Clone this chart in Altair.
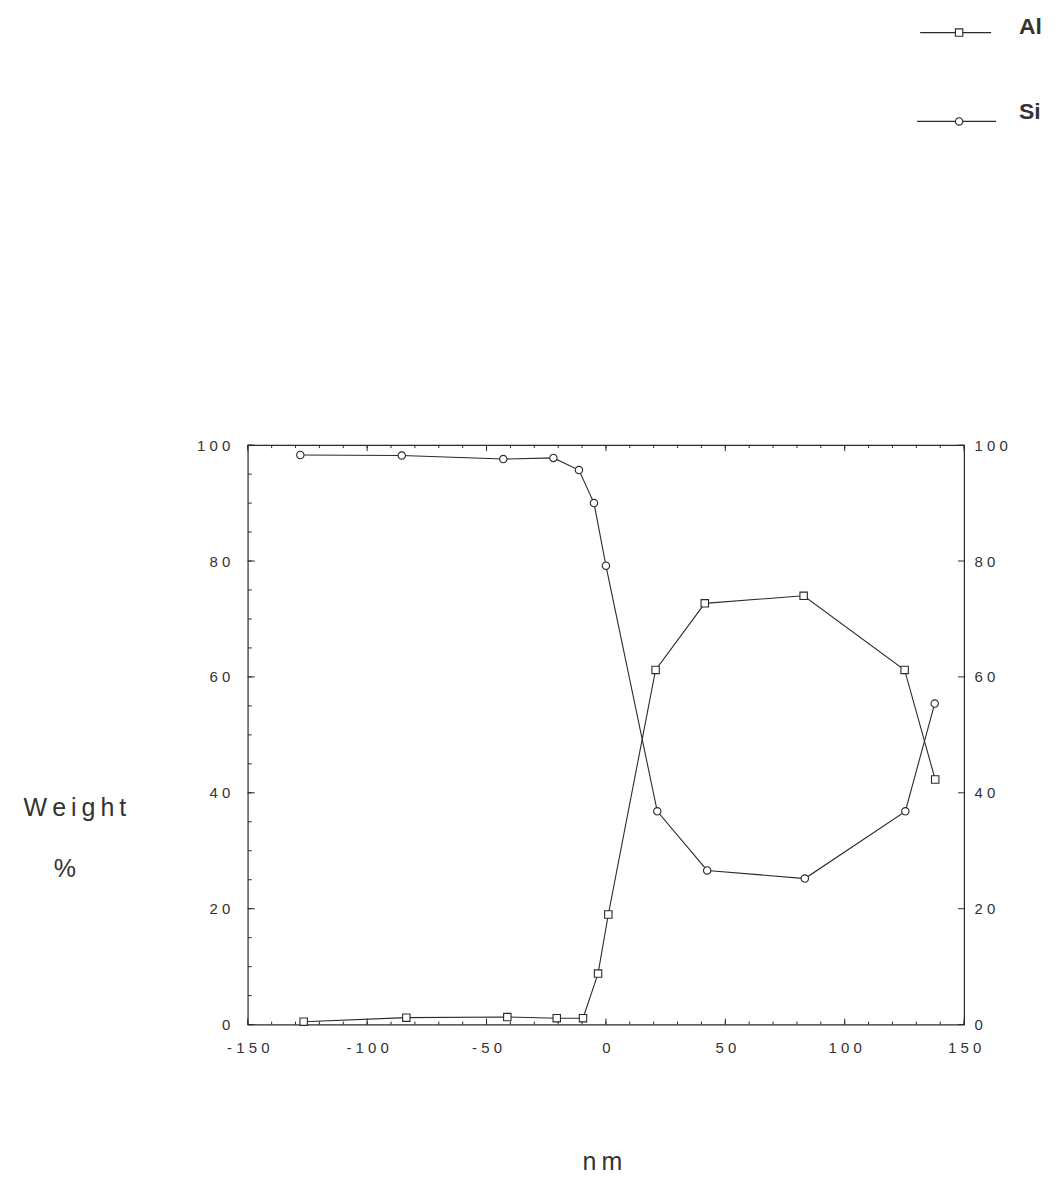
import altair as alt
import pandas as pd

# ---- data ----
al_x = [-126.6, -83.6, -41.3, -20.6, -9.6, -3.3, 1.0, 20.8, 41.4, 82.8, 125.1, 137.9]
al_y = [0.5, 1.2, 1.3, 1.1, 1.1, 8.8, 19.0, 61.2, 72.7, 74.0, 61.2, 42.3]
si_x = [-128.0, -85.5, -43.0, -22.0, -11.3, -5.0, 0.0, 21.5, 42.4, 83.3, 125.4, 137.7]
si_y = [98.3, 98.2, 97.6, 97.8, 95.7, 90.0, 79.2, 36.8, 26.6, 25.2, 36.8, 55.4]

x_labels = [-150, -100, -50, 0, 50, 100, 150]
x_minor = list(range(-150, 151, 10))
y_labels = [0, 20, 40, 60, 80, 100]
y_minor = list(range(0, 101, 5))

W, H = 717, 580
INK = "#2a2a2a"
TXT = "#333333"
FONT = "Liberation Sans"

df = pd.DataFrame({
    "nm": al_x + si_x,
    "wt": al_y + si_y,
    "el": ["Al"] * len(al_x) + ["Si"] * len(si_x),
})

xscale = alt.Scale(domain=[-150, 150], nice=False, zero=False)
yscale = alt.Scale(domain=[0, 100], nice=False, zero=False)
spaced = "join(split(toString(datum.value), ''), ' ')"

x_axis = alt.Axis(values=x_labels, labelExpr=spaced, ticks=False, domain=False, grid=False,
                  labelPadding=16, labelFontSize=15, labelFont=FONT, labelColor=TXT,
                  labelFlush=False, orient="bottom")
y_left_axis = alt.Axis(values=y_labels, labelExpr=spaced, ticks=False, domain=False, grid=False,
                       labelPadding=18, labelFontSize=15, labelFont=FONT, labelColor=TXT,
                       labelFlush=False, orient="left")
y_right_axis = alt.Axis(values=y_labels, labelExpr=spaced, ticks=False, domain=False, grid=False,
                        labelPadding=10, labelFontSize=15, labelFont=FONT, labelColor=TXT,
                        labelFlush=False, orient="right")

lines = alt.Chart(df).mark_line(color=INK, strokeWidth=1.1).encode(
    x=alt.X("nm:Q", scale=xscale, axis=x_axis, title=""),
    y=alt.Y("wt:Q", scale=yscale, axis=y_left_axis, title=""),
    detail="el:N",
)
points = alt.Chart(df).mark_point(filled=True, fill="white", stroke=INK, strokeWidth=1.1,
                                  size=55, opacity=1).encode(
    x=alt.X("nm:Q", scale=xscale, axis=None),
    y=alt.Y("wt:Q", scale=yscale, axis=None),
    shape=alt.Shape("el:N", scale=alt.Scale(domain=["Al", "Si"], range=["square", "circle"]),
                    legend=None),
)

xmin_df = pd.DataFrame({"t": x_minor})
xmaj_df = pd.DataFrame({"t": x_labels})
ymin_df = pd.DataFrame({"t": y_minor})
ymaj_df = pd.DataFrame({"t": y_labels})


def xtick(data, y0, y1):
    return alt.Chart(data).mark_rule(color=INK, strokeWidth=1).encode(
        x=alt.X("t:Q", scale=xscale, axis=None), y=alt.value(y0), y2=alt.value(y1))


def ytick(data, x0, x1, axis=None):
    return alt.Chart(data).mark_rule(color=INK, strokeWidth=1).encode(
        y=alt.Y("t:Q", scale=yscale, axis=axis, title=""), x=alt.value(x0), x2=alt.value(x1))


ticks = [
    xtick(xmin_df, H, H - 3), xtick(xmaj_df, H, H - 6),
    xtick(xmin_df, 0, 3), xtick(xmaj_df, 0, 6),
    ytick(ymin_df, 0, 4), ytick(ymaj_df, 0, 7),
    ytick(ymaj_df, W, W - 6, axis=y_right_axis),
]

one = pd.DataFrame({"k": [0]})


def txt(s, x, y, size, weight="normal", align="center", baseline="middle"):
    return alt.Chart(one).mark_text(text=s, font=FONT, fontSize=size, fontWeight=weight,
                                    color=TXT, align=align, baseline=baseline).encode(
        x=alt.value(x), y=alt.value(y))


def hline(x0, x1, y):
    return alt.Chart(one).mark_rule(color=INK, strokeWidth=1.2).encode(
        x=alt.value(x0), x2=alt.value(x1), y=alt.value(y))


def marker(shape, x, y):
    return alt.Chart(one).mark_point(shape=shape, filled=True, fill="white", stroke=INK,
                                     strokeWidth=1.1, size=55, opacity=1).encode(
        x=alt.value(x), y=alt.value(y))


labels = [
    txt("W\u2009e\u2009i\u2009g\u2009h\u2009t", -173, 363, 25),
    txt("%", -183, 424, 25),
    txt("n\u2009m", 355, 726, 25, baseline="alphabetic"),
    hline(673, 744, -413), marker("square", 712, -413),
    txt("Al", 772, -412, 23, weight="bold", align="left", baseline="alphabetic"),
    hline(670, 749, -324), marker("circle", 712, -324),
    txt("Si", 772, -326, 23, weight="bold", align="left", baseline="alphabetic"),
]

chart = alt.layer(lines, points, *ticks, *labels).resolve_axis(
    x="independent", y="independent"
).properties(
    width=W, height=H,
    autosize=alt.AutoSizeParams(type="none"),
    padding={"left": 240, "top": 437, "right": 90, "bottom": 153},
).configure_view(stroke=INK, strokeWidth=1.2)

chart.save("out.html", embed_options={"renderer": "svg", "actions": False})
